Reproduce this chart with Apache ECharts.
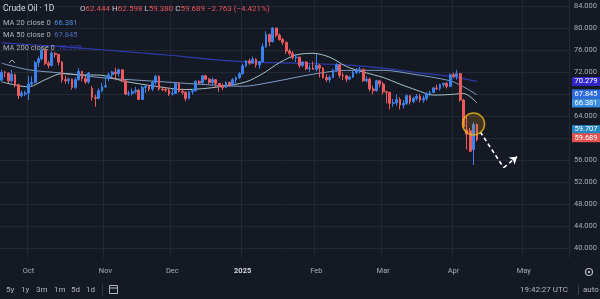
<!DOCTYPE html>
<html><head><meta charset="utf-8">
<script src="https://cdn.jsdelivr.net/npm/echarts@6/dist/echarts.min.js"></script>
<style>html,body{margin:0;padding:0;background:#151924;}#c{width:600px;height:299px;}</style>
</head><body><div id="c"></div>
<script>
// [date, open, high, low, close]
const candles = [
['2024-09-19',70.5,72.4,70.3,71.9],['2024-09-20',72.0,72.2,71.0,71.9],['2024-09-23',71.8,71.9,70.0,70.4],['2024-09-24',70.4,72.4,70.1,71.6],
['2024-09-25',71.5,71.7,69.2,69.7],['2024-09-26',69.7,69.8,67.1,67.7],['2024-09-27',67.7,68.6,67.4,68.2],['2024-09-30',68.0,68.6,67.6,68.2],
['2024-10-01',68.2,71.3,66.9,69.8],['2024-10-02',69.8,71.2,69.3,70.1],['2024-10-03',70.1,74.0,69.9,73.7],['2024-10-04',73.7,74.8,72.9,74.4],
['2024-10-07',74.4,76.6,74.1,76.0],['2024-10-08',76.0,76.2,73.2,73.6],['2024-10-09',73.6,74.0,72.7,73.2],['2024-10-10',73.2,75.8,73.0,75.4],
['2024-10-11',75.4,75.6,74.6,75.2],['2024-10-14',75.2,75.3,73.2,73.8],['2024-10-15',73.8,74.0,70.1,70.6],['2024-10-16',70.6,71.3,69.9,70.4],
['2024-10-17',70.4,71.0,69.8,70.7],['2024-10-18',70.7,70.8,68.8,69.2],['2024-10-21',69.2,71.0,68.9,70.6],['2024-10-22',70.6,72.7,70.4,72.1],
['2024-10-23',72.1,72.2,70.3,70.8],['2024-10-24',70.8,71.3,69.8,70.2],['2024-10-25',70.2,72.0,69.9,71.8],['2024-10-28',69.0,69.4,66.8,67.4],
['2024-10-29',67.4,67.9,65.7,67.2],['2024-10-30',67.2,69.0,67.0,68.6],['2024-10-31',68.6,70.0,68.3,69.3],['2024-11-01',69.3,71.2,69.1,69.5],
['2024-11-04',70.8,71.9,70.3,71.5],['2024-11-05',71.5,72.2,71.0,72.0],['2024-11-06',72.0,72.8,70.5,71.7],['2024-11-07',71.7,72.6,71.2,72.4],
['2024-11-08',72.4,72.5,70.1,70.4],['2024-11-11',70.4,70.5,67.8,68.0],['2024-11-12',68.0,68.6,67.6,68.1],['2024-11-13',68.1,69.0,67.7,68.4],
['2024-11-14',68.4,69.3,68.0,68.7],['2024-11-15',68.7,68.9,66.9,67.0],['2024-11-18',67.0,69.5,66.9,69.2],['2024-11-19',69.2,69.5,68.2,69.4],
['2024-11-20',69.4,69.6,68.5,68.9],['2024-11-21',68.9,70.4,68.5,70.1],['2024-11-22',70.1,71.5,69.7,71.2],['2024-11-25',71.2,71.4,68.6,68.9],
['2024-11-26',68.9,69.3,68.5,68.8],['2024-11-27',68.8,69.2,68.3,68.7],['2024-11-29',68.7,69.1,67.6,68.0],['2024-12-02',68.0,69.0,67.7,68.1],
['2024-12-03',68.1,70.2,68.0,69.9],['2024-12-04',69.9,70.2,68.3,68.5],['2024-12-05',68.5,69.0,67.9,68.3],['2024-12-06',68.3,68.5,66.7,67.2],
['2024-12-09',67.2,68.5,67.0,68.4],['2024-12-10',68.4,68.9,67.9,68.6],['2024-12-11',68.6,70.5,68.4,70.3],['2024-12-12',70.3,70.5,69.8,70.0],
['2024-12-13',70.0,71.4,69.9,71.3],['2024-12-16',71.3,71.5,70.5,70.7],['2024-12-17',70.7,70.9,69.8,70.1],['2024-12-18',70.1,71.0,69.6,70.6],
['2024-12-19',70.6,70.7,69.1,69.9],['2024-12-20',69.9,70.0,68.4,69.5],['2024-12-23',69.5,69.9,68.7,69.2],['2024-12-24',69.2,70.3,69.1,70.1],
['2024-12-26',70.1,70.3,69.3,69.6],['2024-12-27',69.6,70.9,69.4,70.6],['2024-12-30',70.6,71.2,70.0,71.0],['2024-12-31',71.0,72.0,70.7,71.7],
['2025-01-02',71.7,73.5,71.5,73.1],['2025-01-03',73.1,74.2,72.9,74.0],['2025-01-06',74.0,74.4,73.3,73.6],['2025-01-07',73.6,74.8,73.5,74.3],
['2025-01-08',74.3,74.5,72.8,73.3],['2025-01-09',73.3,74.0,72.6,73.9],['2025-01-10',73.9,77.2,73.7,76.6],['2025-01-13',76.6,79.4,76.4,78.8],
['2025-01-14',78.8,79.0,76.7,77.5],['2025-01-15',77.5,80.2,77.4,80.0],['2025-01-16',80.0,80.0,78.3,78.7],['2025-01-17',78.7,79.0,77.7,77.9],
['2025-01-20',77.9,78.2,76.9,77.4],['2025-01-21',77.4,77.5,75.3,75.8],['2025-01-22',75.8,76.2,75.0,75.4],['2025-01-23',75.4,75.8,74.3,74.6],
['2025-01-24',74.6,75.3,73.8,74.7],['2025-01-27',74.7,74.8,72.7,73.2],['2025-01-28',73.2,74.0,72.9,73.8],['2025-01-29',73.8,74.0,72.3,72.6],
['2025-01-30',72.6,73.3,72.0,72.7],['2025-01-31',72.7,73.9,72.4,72.5],['2025-02-03',72.5,75.2,72.1,73.2],['2025-02-04',73.2,73.5,71.0,72.7],
['2025-02-05',72.7,72.9,70.8,71.0],['2025-02-06',71.0,71.6,70.2,70.6],['2025-02-07',70.6,71.4,70.1,71.0],['2025-02-10',71.0,72.6,70.9,72.3],
['2025-02-11',72.3,73.6,72.0,73.3],['2025-02-12',73.3,73.4,70.9,71.4],['2025-02-13',71.4,71.9,70.5,71.3],['2025-02-14',71.3,71.5,70.2,70.7],
['2025-02-17',70.7,71.3,70.5,71.1],['2025-02-18',71.1,72.2,70.9,71.9],['2025-02-19',71.9,72.7,71.6,72.3],['2025-02-20',72.3,72.9,71.7,72.5],
['2025-02-21',72.5,72.6,70.2,70.4],['2025-02-24',70.4,71.2,70.1,70.7],['2025-02-25',70.7,71.0,68.5,68.9],['2025-02-26',68.9,69.5,68.0,68.6],
['2025-02-27',68.6,70.6,68.4,70.4],['2025-02-28',70.4,70.6,69.2,69.8],['2025-03-03',69.8,70.2,67.9,68.4],['2025-03-04',68.4,68.6,66.3,68.3],
['2025-03-05',68.3,68.4,65.2,66.3],['2025-03-06',66.3,67.1,65.7,66.4],['2025-03-07',66.4,67.9,65.9,67.0],['2025-03-10',67.0,67.4,65.2,66.0],
['2025-03-11',66.0,66.9,65.4,66.3],['2025-03-12',66.3,67.9,66.0,67.7],['2025-03-13',67.7,67.8,66.1,66.6],['2025-03-14',66.6,67.5,66.3,67.2],
['2025-03-17',67.2,68.0,66.8,67.6],['2025-03-18',67.6,68.0,66.5,66.9],['2025-03-19',66.9,67.7,66.4,67.2],['2025-03-20',67.2,68.3,66.8,68.1],
['2025-03-21',68.1,68.6,67.6,68.3],['2025-03-24',68.3,69.3,68.1,69.1],['2025-03-25',69.1,69.7,68.7,69.0],['2025-03-26',69.0,69.9,68.6,69.7],
['2025-03-27',69.7,70.1,69.2,69.9],['2025-03-28',69.9,70.2,69.0,69.4],['2025-03-31',69.4,71.7,69.2,71.5],['2025-04-01',71.5,71.9,70.9,71.2],
['2025-04-02',71.2,72.4,70.6,71.7],['2025-04-03',71.7,71.8,66.6,66.9],['2025-04-04',66.9,67.1,61.8,62.0],['2025-04-07',61.5,63.9,57.9,60.7],
['2025-04-08',61.3,61.8,57.4,57.6],['2025-04-09',57.9,62.9,55.1,62.452],['2025-04-10',62.444,62.598,59.38,59.689]
];
const futureDates = ['2025-04-11','2025-04-14','2025-04-15','2025-04-16','2025-04-17','2025-04-21','2025-04-22','2025-04-23','2025-04-24','2025-04-25',
'2025-04-28','2025-04-29','2025-04-30','2025-05-01','2025-05-02','2025-05-05','2025-05-06','2025-05-07','2025-05-08','2025-05-09',
'2025-05-12','2025-05-13','2025-05-14','2025-05-15','2025-05-16','2025-05-19','2025-05-20'];
const ma20 = [['2024-09-19',70.2],['2024-10-01',69.3],['2024-10-08',70.6],['2024-10-15',71.7],['2024-10-22',71.5],['2024-10-31',71.4],['2024-11-08',70.4],
['2024-11-22',69.4],['2024-12-06',68.8],['2024-12-20',69.3],['2025-01-03',70.2],['2025-01-10',71.7],['2025-01-17',73.7],['2025-01-24',75.1],['2025-01-31',75.4],
['2025-02-07',74.7],['2025-02-14',73.0],['2025-02-21',72.0],['2025-03-03',71.0],['2025-03-10',69.8],['2025-03-17',68.7],['2025-03-24',67.8],['2025-03-31',67.9],
['2025-04-04',68.1],['2025-04-10',66.381]];
const ma50 = [['2024-09-19',73.6],['2024-10-01',72.4],['2024-10-15',71.8],['2024-11-01',70.9],['2024-11-15',70.5],['2024-12-02',70.1],['2024-12-16',69.7],
['2025-01-02',69.4],['2025-01-15',70.2],['2025-01-31',71.6],['2025-02-14',72.3],['2025-03-03',72.3],['2025-03-14',71.6],['2025-03-31',70.4],['2025-04-04',69.3],
['2025-04-10',67.845]];
const ma200 = [['2024-09-19',77.3],['2024-10-15',76.6],['2024-11-01',76.0],['2024-11-15',75.5],['2024-12-02',75.0],['2024-12-16',74.4],['2025-01-02',73.9],
['2025-01-15',73.7],['2025-02-03',73.5],['2025-02-18',73.2],['2025-03-03',72.7],['2025-03-17',71.9],['2025-04-01',71.1],['2025-04-10',70.279]];
const yTicks = [40,44,48,52,56,60,64,68,72,76,80,84];
const monthNames = ['Jan','Feb','Mar','Apr','May','Jun','Jul','Aug','Sep','Oct','Nov','Dec'];
const arrowPath = [['2025-04-11',61.1],['2025-04-23',54.6],['2025-04-29',56.6]];
const highlight = ['2025-04-09',62.55];
const priceTags = [
  {v:70.279, bg:'#3427c9', dy:0},
  {v:67.845, bg:'#2f6be0', dy:-1},
  {v:66.381, bg:'#3a8ee2', dy:0},
  {v:59.707, bg:'#2586c4', dy:-10},
  {v:59.689, bg:'#e4524f', dy:-2}
];

const FONT = 'Roboto, "Noto Sans", sans-serif';
const categories = candles.map(d => d[0]).concat(futureDates);
const ohlc = candles.map(d => [d[1], d[4], d[3], d[2]]);
function sparse(samples){
  const arr = categories.map(() => null);
  samples.forEach(([d, v]) => { arr[categories.indexOf(d)] = v; });
  return arr;
}
const isMonthStart = (i) => i > 0 && categories[i].slice(0,7) !== categories[i-1].slice(0,7);

const chart = echarts.init(document.getElementById('c'), null, {renderer:'canvas'});
const maLine = (name, samples, color, w) => ({
  name, type:'line', data: sparse(samples), connectNulls:true, showSymbol:false, smooth:0.3,
  lineStyle:{color, width:w}, z:3, silent:true
});
chart.setOption({
  backgroundColor:'#151924',
  animation:false,
  grid:{left:0, right:28, top:0, bottom:41},
  xAxis:{
    type:'category', data:categories, boundaryGap:true,
    axisLine:{show:false}, axisTick:{show:false},
    axisLabel:{interval:(i)=>isMonthStart(i), color:'#a9adb8', fontSize:7.5, fontFamily:FONT, margin:9,
      formatter:(v)=>{const m=+v.slice(5,7); return m===1 ? '{y|'+v.slice(0,4)+'}' : monthNames[m-1];},
      rich:{y:{color:'#d6d9e0', fontSize:7.5, fontWeight:'bold', fontFamily:FONT}}},
    splitLine:{show:true, interval:(i)=>isMonthStart(i), lineStyle:{color:'#232834', width:1}}
  },
  yAxis:{
    type:'value', position:'right', min:38.18, max:85.09, scale:true,
    axisLine:{show:false},
    axisTick:{show:false, customValues:yTicks},
    axisLabel:{customValues:yTicks, color:'#a9adb8', fontSize:7.5, fontFamily:FONT, margin:5, formatter:(v)=>v.toFixed(3)},
    splitLine:{show:true, lineStyle:{color:'#232834', width:1}}
  },
  series:[
    {
      type:'candlestick', data:ohlc, barWidth:2.3, z:4,
      itemStyle:{color:'#3b82ec', color0:'#ec5a5e', borderColor:'#3b82ec', borderColor0:'#ec5a5e', borderWidth:1},
      markLine:{
        silent:true, symbol:['none','arrow'], symbolSize:7, animation:false,
        label:{show:false},
        lineStyle:{color:'#ffffff', type:[4,3], width:1.6},
        data:[
          [{coord:arrowPath[0], symbol:'none'}, {coord:arrowPath[1], symbol:'none'}],
          [{coord:arrowPath[1], symbol:'none'}, {coord:arrowPath[2], symbol:'arrow'}]
        ]
      }
    },
    maLine('MA 200', ma200, '#2f3cb0', 1.2),
    maLine('MA 50', ma50, '#7f9cc6', 1),
    maLine('MA 20', ma20, '#a3c7c6', 1),
    {
      type:'scatter', data:[highlight], symbolSize:22, z:6, silent:true,
      itemStyle:{color:'rgba(235,160,40,0.25)', borderColor:'#f2b90f', borderWidth:1.5}
    }
  ]
});

const g = [];
const txt = (x, y, text, opt) => g.push(Object.assign({type:'text', x, y, silent:true, z:100,
  style:Object.assign({text, fill:'#b2b5be', fontSize:8, fontFamily:FONT, verticalAlign:'middle'}, opt||{})}));
txt(3, 9, 'Crude Oil · 1D', {fill:'#d8dbe2', fontSize:8.5});
g.push({type:'text', x:80, y:9, silent:true, z:100, style:{
  text:'{l|O}{v|62.444} {l|H}{v|62.598} {l|L}{v|59.380} {l|C}{v|59.689} {v|−2.763 (−4.421%)}',
  verticalAlign:'middle', fontFamily:FONT, fontSize:8,
  rich:{l:{fill:'#c8cbd2', fontSize:8, fontFamily:FONT}, v:{fill:'#e8545a', fontSize:8, fontFamily:FONT}}}});
const maLegend = [['MA 20 close 0', '66.381', '#4d93e0'], ['MA 50 close 0', '67.845', '#4a6fc0'], ['MA 200 close 0', '70.279', '#3a37b8']];
maLegend.forEach((m, i) => {
  g.push({type:'text', x:3, y:23 + i*12.5, silent:true, z:100, style:{
    text:'{l|' + m[0] + '}  {v|' + m[1] + '}', verticalAlign:'middle', fontFamily:FONT, fontSize:7.5,
    rich:{l:{fill:'#aeb2bc', fontSize:7.5, fontFamily:FONT}, v:{fill:m[2], fontSize:7.5, fontFamily:FONT}}}});
});
g.push({type:'polyline', silent:true, z:100, shape:{points:[[9,63],[12,60],[15,63]]}, style:{stroke:'#b2b5be', lineWidth:1, fill:null}});
[['5y',10],['1y',25],['3m',40],['1m',58],['5d',75],['1d',90]].forEach(t => txt(t[1]-4, 290, t[0], {fill:'#b2b5be', fontSize:8}));
g.push({type:'rect', silent:true, z:100, shape:{x:109.5, y:285.5, width:8, height:8}, style:{stroke:'#b2b5be', fill:null, lineWidth:1}});
g.push({type:'line', silent:true, z:100, shape:{x1:109.5, y1:288, x2:117.5, y2:288}, style:{stroke:'#b2b5be', lineWidth:1}});
g.push({type:'line', silent:true, z:100, shape:{x1:102.5, y1:284, x2:102.5, y2:296}, style:{stroke:'#2f3440', lineWidth:1}});
txt(520, 290, '19:42:27 UTC', {fill:'#b2b5be', fontSize:8});
g.push({type:'line', silent:true, z:100, shape:{x1:578.5, y1:285, x2:578.5, y2:295}, style:{stroke:'#3a3f4b', lineWidth:1}});
txt(583, 290, 'auto', {fill:'#b2b5be', fontSize:8});
g.push({type:'circle', silent:true, z:100, shape:{cx:589, cy:272, r:3.5}, style:{stroke:'#b2b5be', fill:null, lineWidth:1.2}});
g.push({type:'circle', silent:true, z:100, shape:{cx:589, cy:272, r:1.2}, style:{fill:'#b2b5be'}});
priceTags.forEach(t => {
  const yc = chart.convertToPixel({yAxisIndex:0}, t.v) + t.dy;
  g.push({type:'rect', silent:true, z:101, shape:{x:572, y:yc-4.5, width:28, height:9}, style:{fill:t.bg}});
  g.push({type:'text', silent:true, z:102, x:586, y:yc, style:{text:t.v.toFixed(3), fill:'#ffffff', fontSize:7.5, fontFamily:FONT, align:'center', verticalAlign:'middle'}});
});
chart.setOption({graphic:g});
</script></body></html>
